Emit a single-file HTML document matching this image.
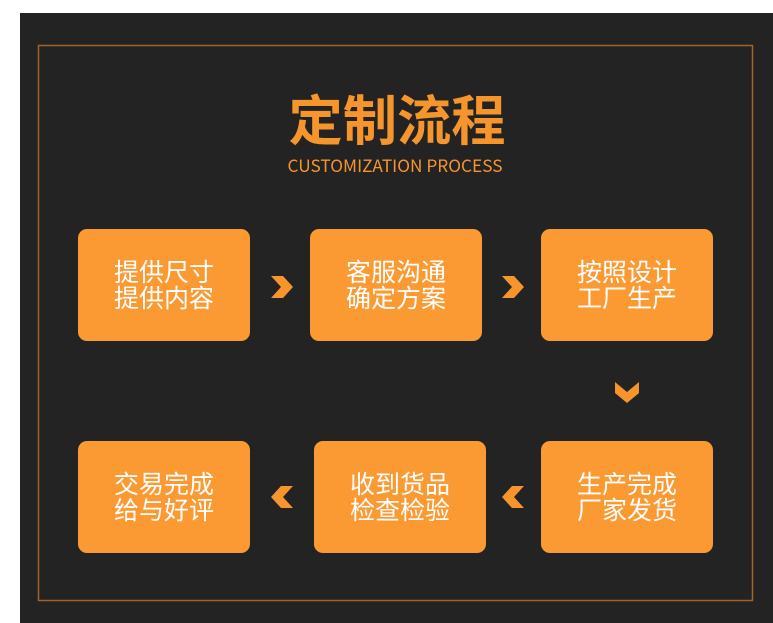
<!DOCTYPE html>
<html><head><meta charset="utf-8"><style>
html,body{margin:0;padding:0;background:#fff;}
svg{display:block}
</style></head><body>
<svg width="773" height="623" viewBox="0 0 773 623" xmlns="http://www.w3.org/2000/svg">
<rect x="20" y="13" width="753" height="610" fill="#232323"/>
<rect x="38.5" y="45.5" width="714" height="555" fill="none" stroke="#a0642a" stroke-width="1.5"/>
<text x="397" y="140" text-anchor="middle" font-family="Noto Sans CJK SC, sans-serif" font-weight="bold" font-size="54" fill="#f7952d" textLength="217" lengthAdjust="spacingAndGlyphs">定制流程</text>
<text x="395" y="172" text-anchor="middle" font-family="Noto Sans CJK SC, sans-serif" font-size="17" fill="#f7952d" textLength="215" lengthAdjust="spacingAndGlyphs">CUSTOMIZATION PROCESS</text>
<g fill="#fb9a33">
<rect x="78" y="229" width="172" height="112" rx="9"/>
<rect x="310" y="229" width="172" height="112" rx="9"/>
<rect x="541" y="229" width="172" height="112" rx="9"/>
<rect x="78" y="441" width="172" height="112" rx="9"/>
<rect x="314" y="441" width="172" height="112" rx="9"/>
<rect x="541" y="441" width="172" height="112" rx="9"/>
</g>
<g fill="#f7952d">
<polygon points="271,276 283,276 293,287 283,298 271,298 281,287"/>
<polygon points="502,276 514,276 524,287 514,298 502,298 512,287"/>
<polygon points="615,382 615,393 627,403 639,393 639,382 627,392"/>
<polygon points="293,486 281,486 271,497 281,508 293,508 283,497"/>
<polygon points="524,486 512,486 502,497 512,508 524,508 514,497"/>
</g>
<g font-family="Noto Sans CJK SC, sans-serif" font-size="25" fill="#fff" text-anchor="middle">
<text x="164" y="281">提供尺寸</text><text x="164" y="307">提供内容</text>
<text x="396" y="281">客服沟通</text><text x="396" y="307">确定方案</text>
<text x="627" y="281">按照设计</text><text x="627" y="307">工厂生产</text>
<text x="164" y="493">交易完成</text><text x="164" y="519">给与好评</text>
<text x="400" y="493">收到货品</text><text x="400" y="519">检查检验</text>
<text x="627" y="493">生产完成</text><text x="627" y="519">厂家发货</text>
</g>
</svg>
</body></html>
